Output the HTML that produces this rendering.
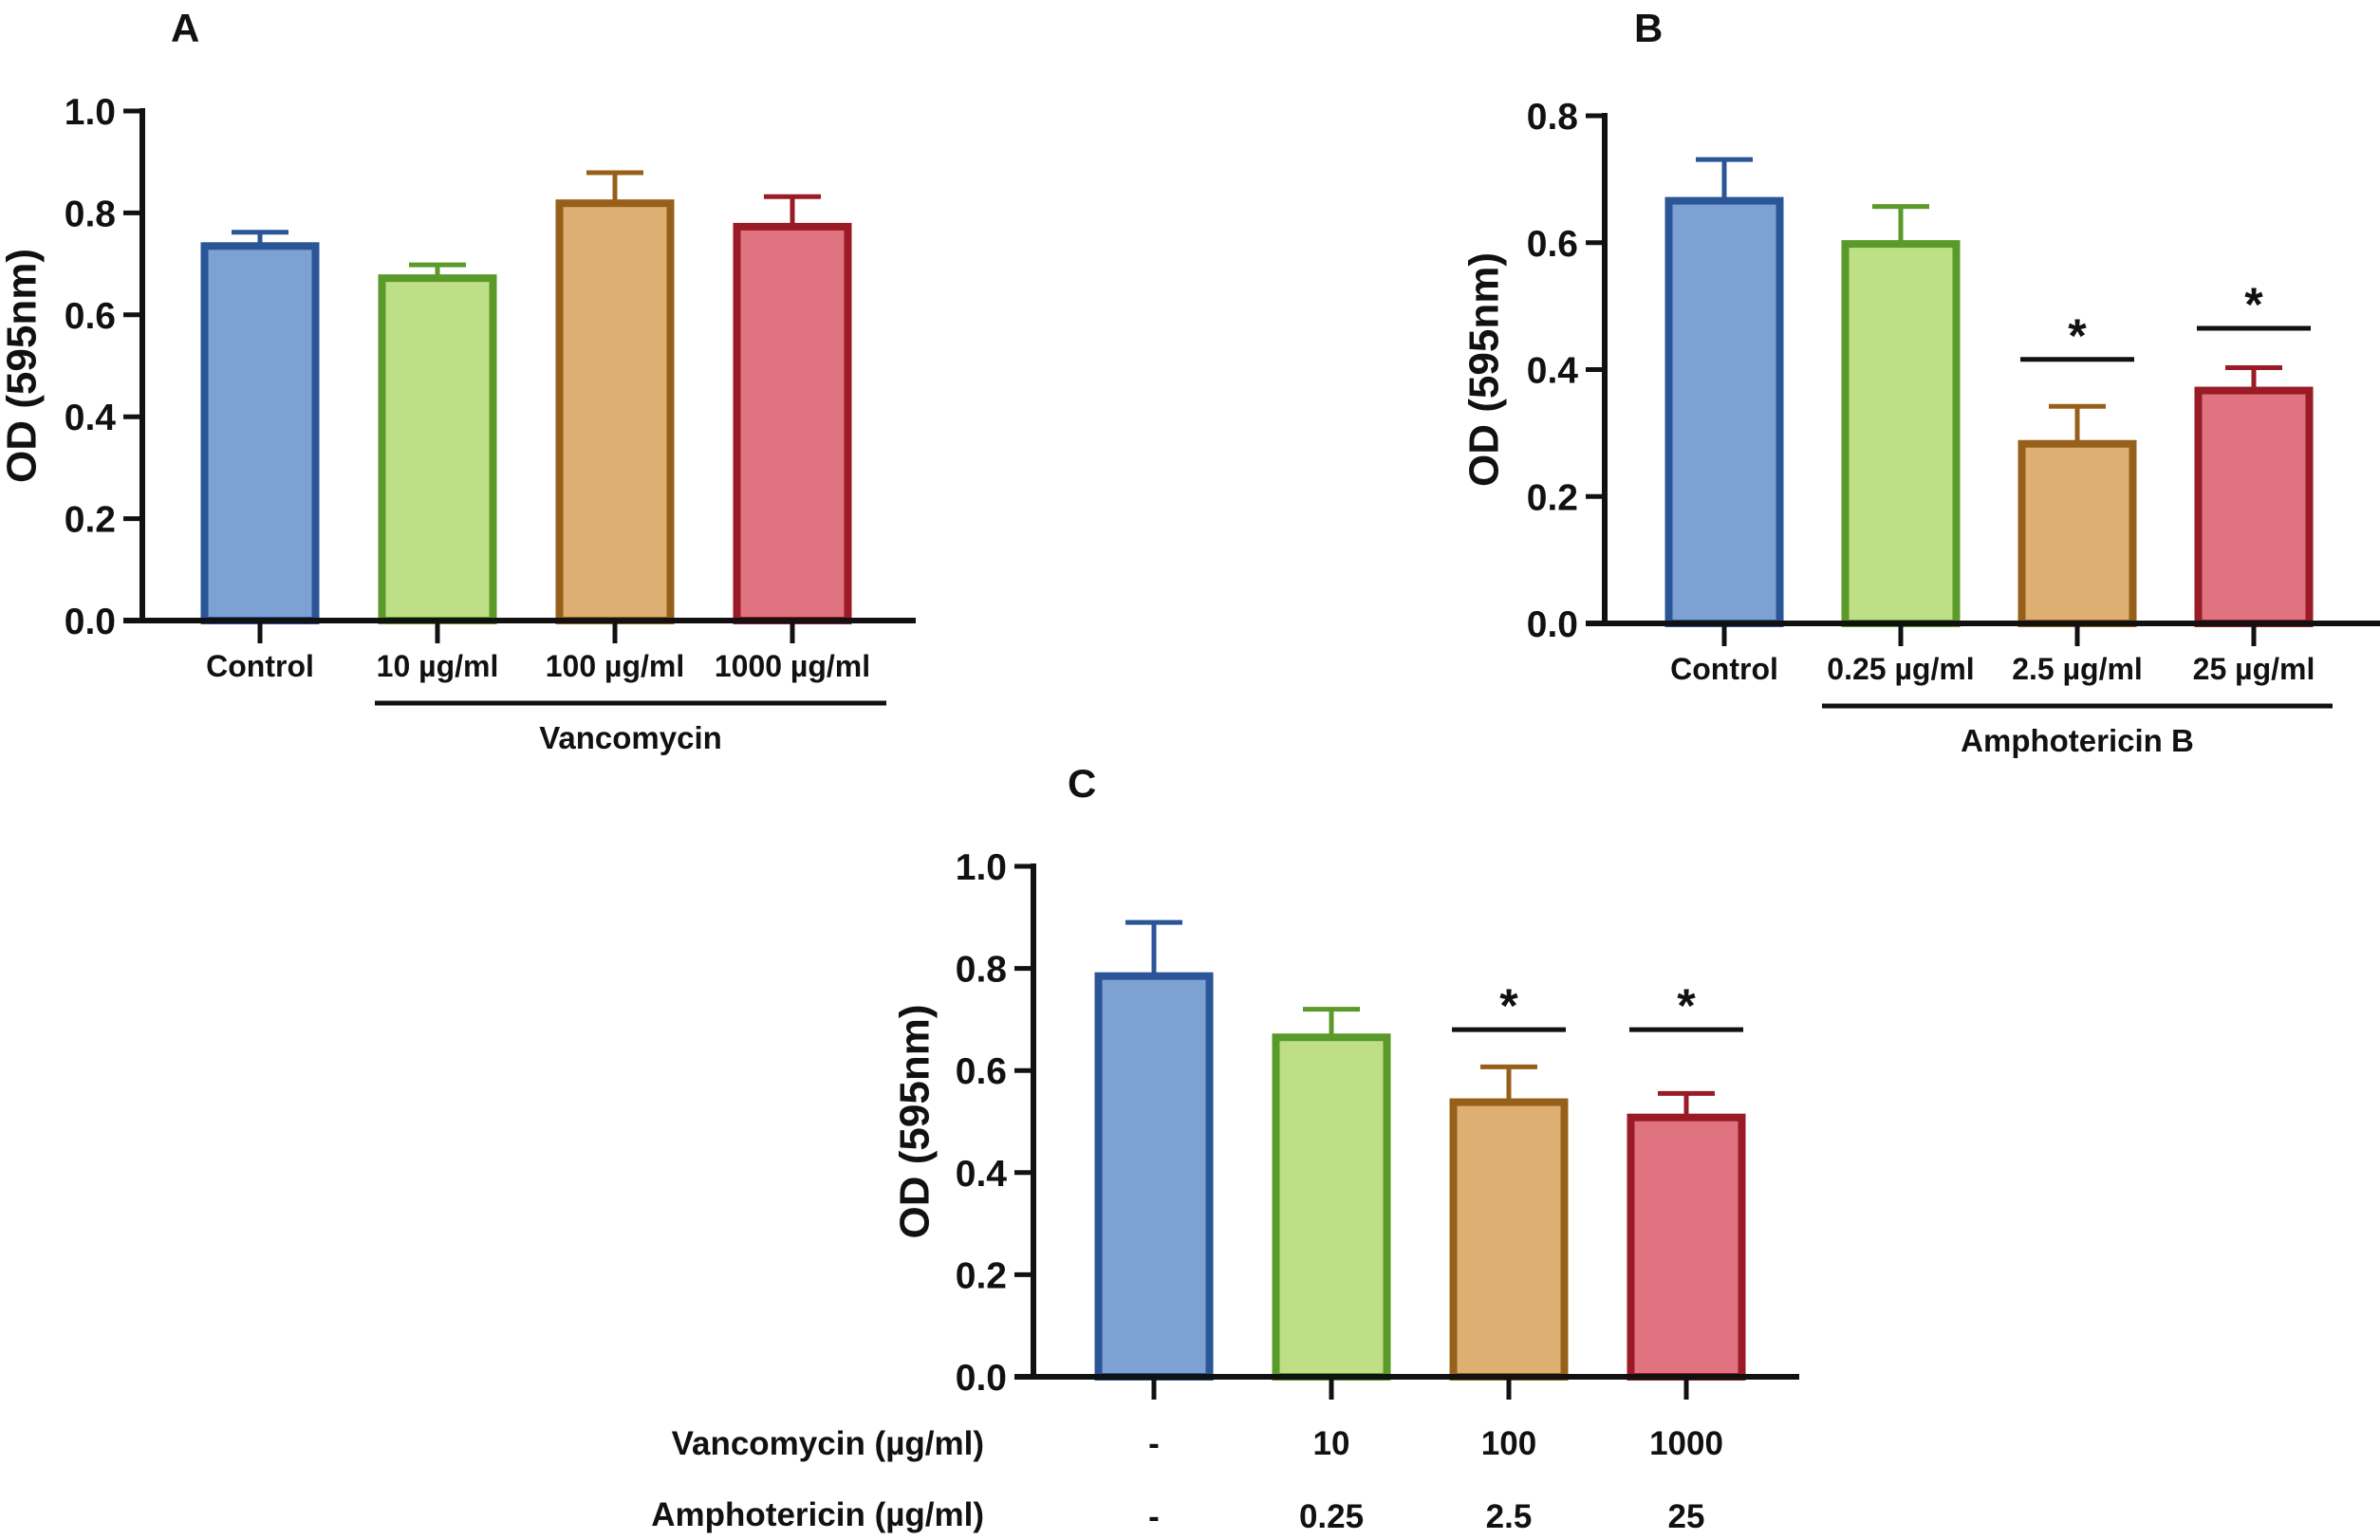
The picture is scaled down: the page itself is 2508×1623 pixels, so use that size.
<!DOCTYPE html>
<html><head><meta charset="utf-8"><style>
html,body{margin:0;padding:0;background:#fff;}
svg{display:block;font-family:"Liberation Sans",sans-serif;}
text{font-weight:bold;fill:#111;}
</style></head><body>
<svg id="fig" width="2508" height="1623" viewBox="0 0 2508 1623" xmlns="http://www.w3.org/2000/svg"></svg>
<script>
const fills = ["#7ea1d4","#bfdf86","#deaf72","#df7480"];
const strokes = ["#2a5597","#5a9a2a","#97601a","#9a1a25"];

const catsA = ["Control","10 µg/ml","100 µg/ml","1000 µg/ml"];
const meanA = [0.735,0.672,0.819,0.773];
const errA = [0.762,0.698,0.879,0.832];
const ticksA = ["0.0","0.2","0.4","0.6","0.8","1.0"];

const catsB = ["Control","0.25 µg/ml","2.5 µg/ml","25 µg/ml"];
const meanB = [0.666,0.598,0.283,0.367];
const errB = [0.731,0.657,0.342,0.403];
const ticksB = ["0.0","0.2","0.4","0.6","0.8"];
const sigB = [null,null,0.416,0.465];

const vancC = ["-","10","100","1000"];
const amphoC = ["-","0.25","2.5","25"];
const meanC = [0.785,0.665,0.538,0.508];
const errC = [0.89,0.72,0.607,0.555];
const ticksC = ["0.0","0.2","0.4","0.6","0.8","1.0"];
const sigC = [null,null,0.68,0.68];

const NS="http://www.w3.org/2000/svg";
const svg=document.getElementById('fig');
function mk(tag,attrs,parent,txt){const e=document.createElementNS(NS,tag);for(const k in attrs)e.setAttribute(k,attrs[k]);if(txt!==undefined)e.textContent=txt;(parent||svg).appendChild(e);return e;}

function panel(p){
  const g=mk('g',{});
  
  
  const y=v=>p.y0-(v/p.ymax)*p.h;
  const x=i=>p.cx0+i*p.step;
  const L=mk('text',{x:p.lx,y:p.ly,'font-size':42},g,p.letter);
  
  
  const yt=mk('text',{x:0,y:0,'font-size':44,'text-anchor':'middle',transform:`translate(${p.ytx},${p.y0-p.h/2}) rotate(-90)`,'dominant-baseline':'middle'},g,'OD (595nm)');
  
  
  p.mean.forEach((m,i)=>{
    const cx=x(i),w=117;
    const eb=mk('line',{x1:cx,x2:cx,y1:y(m),y2:y(p.err[i]),stroke:strokes[i],'stroke-width':5},g);
    
    
    mk('line',{x1:cx-30,x2:cx+30,y1:y(p.err[i]),y2:y(p.err[i]),stroke:strokes[i],'stroke-width':5},g);
    const r=mk('rect',{x:cx-w/2,y:y(m),width:w,height:p.y0-y(m),fill:fills[i],stroke:strokes[i],'stroke-width':8},g);
    
    
    mk('line',{x1:cx,x2:cx,y1:p.y0,y2:p.y0+24,stroke:'#111','stroke-width':5},g);
    if(p.sig&&p.sig[i]!=null){
      const sy=y(p.sig[i]);
      const sl=mk('line',{x1:cx-60,x2:cx+60,y1:sy,y2:sy,stroke:'#111','stroke-width':5},g);
      
      
      const st=mk('text',{x:cx,y:sy-8,'font-size':50,'text-anchor':'middle'},g,'*');
      
      
    }
    if(p.cats){
      const t=mk('text',{x:cx,y:p.y0+59,'font-size':32,'text-anchor':'middle'},g,p.cats[i]);
      
      
    }
  });
  const ya=mk('line',{x1:p.ax,x2:p.ax,y1:p.y0+3,y2:p.y0-p.h-3,stroke:'#111','stroke-width':6},g);
  
  
  const xa=mk('line',{x1:p.ax-20,x2:p.xend,y1:p.y0,y2:p.y0,stroke:'#111','stroke-width':6},g);
  
  
  p.ticks.forEach(t=>{
    const v=parseFloat(t);
    mk('line',{x1:p.ax-20,x2:p.ax,y1:y(v),y2:y(v),stroke:'#111','stroke-width':5},g);
    const tl=mk('text',{x:p.ax-28,y:y(v)+14,'font-size':39,'text-anchor':'end'},g,t);
    
    
  });
  if(p.group){
    const gl=mk('line',{x1:p.group.x1,x2:p.group.x2,y1:p.group.y,y2:p.group.y,stroke:'#111','stroke-width':5},g);
    
    
    const gt=mk('text',{x:(p.group.x1+p.group.x2)/2,y:p.group.y+48,'font-size':33,'text-anchor':'middle'},g,p.group.label);
    
    
  }
  return {g,x,y};
}

panel({name:'panel-a',letter:'A',lx:180,ly:44,ytx:26,ax:150,y0:654,h:537,ymax:1.0,cx0:274,step:187,xend:965,
  mean:meanA,err:errA,ticks:ticksA,cats:catsA,group:{x1:395,x2:934,y:741,label:'Vancomycin'}});
panel({name:'panel-b',letter:'B',lx:1722,ly:44,ytx:1567,ax:1691,y0:657,h:535,ymax:0.8,cx0:1817,step:186,xend:2508,
  mean:meanB,err:errB,ticks:ticksB,cats:catsB,sig:sigB,group:{x1:1920,x2:2458,y:744,label:'Amphotericin B'}});
const pc=panel({name:'panel-c',letter:'C',lx:1125,ly:840,ytx:967,ax:1089,y0:1451,h:538,ymax:1.0,cx0:1216,step:187,xend:1896,
  mean:meanC,err:errC,ticks:ticksC,sig:sigC});
const r1=mk('text',{x:1037,y:1533,'font-size':35,'text-anchor':'end'},pc.g,'Vancomycin (µg/ml)');


const r2=mk('text',{x:1037,y:1608,'font-size':35,'text-anchor':'end'},pc.g,'Amphotericin (µg/ml)');


vancC.forEach((v,i)=>{
  const t=mk('text',{x:pc.x(i),y:1533,'font-size':35,'font-weight':'normal','text-anchor':'middle'},pc.g,v);
  
  
});
amphoC.forEach((v,i)=>{
  const t=mk('text',{x:pc.x(i),y:1610,'font-size':35,'font-weight':'normal','text-anchor':'middle'},pc.g,v);
  
  
});
</script>
</body></html>
